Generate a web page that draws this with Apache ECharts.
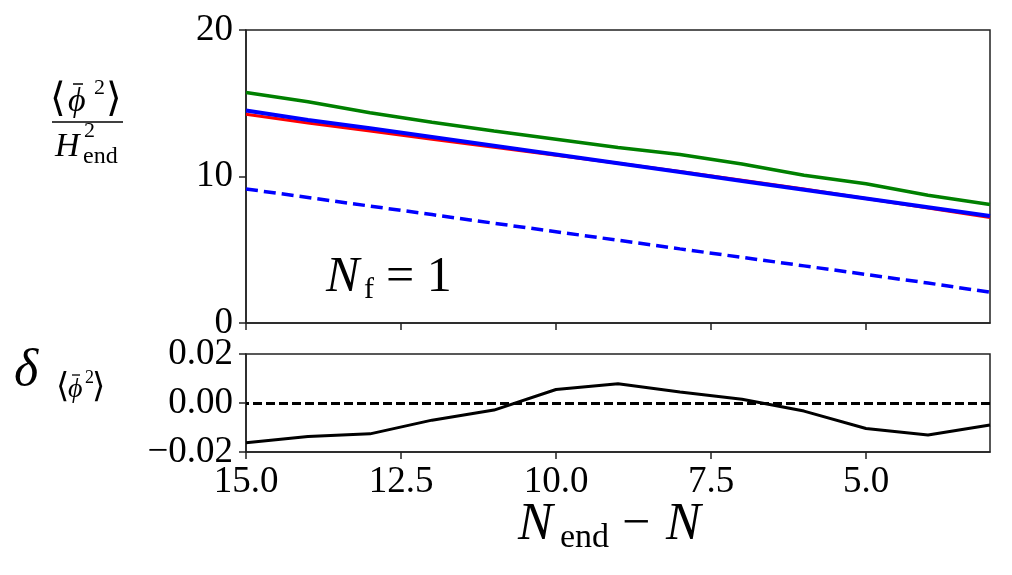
<!DOCTYPE html>
<html>
<head>
<meta charset="utf-8">
<script src="https://cdn.jsdelivr.net/npm/echarts@6/dist/echarts.min.js"></script>
<style>
html, body { margin: 0; padding: 0; background: #fff; }
#main { width: 1012px; height: 575px; }
</style>
</head>
<body>
<div id="main"></div>
<script>
// N_end - N sample points
const nLeft = [15, 14, 13, 12, 11, 10, 9, 8, 7, 6, 5, 4, 3];
// <phi^2>/H_end^2 curves
const phiRed = [14.25, 13.65, 13.1, 12.55, 12.0, 11.45, 10.9, 10.35, 9.75, 9.15, 8.5, 7.85, 7.2];
const phiBlue = [14.5, 13.85, 13.3, 12.7, 12.1, 11.5, 10.9, 10.3, 9.7, 9.1, 8.5, 7.9, 7.3];
const phiGreen = [15.73, 15.1, 14.35, 13.7, 13.1, 12.55, 11.98, 11.5, 10.85, 10.08, 9.5, 8.72, 8.09];
const phiBlueDashed = [9.15, 8.57, 7.98, 7.4, 6.81, 6.23, 5.65, 5.06, 4.48, 3.9, 3.31, 2.73, 2.1];
// relative difference (lower panel)
const deltaPhi = [-0.0162, -0.0137, -0.0126, -0.0070, -0.0029, 0.0055, 0.0079, 0.0045, 0.0015, -0.0033, -0.0104, -0.0131, -0.0090];
const xTicks = [15, 12.5, 10, 7.5, 5];

const pairs = (ys) => nLeft.map((n, i) => [n, ys[i]]);

const SERIF = "'Liberation Serif', 'DejaVu Serif', serif";
const AX = '#222';

const myChart = echarts.init(document.getElementById('main'));

function txt(text, x, y, size, opts) {
  opts = opts || {};
  return {
    type: 'text',
    x: x, y: y,
    style: Object.assign({
      text: text,
      fontFamily: SERIF,
      fontSize: size,
      fill: '#000',
      align: 'left', verticalAlign: 'middle',
      textAlign: 'left', textVerticalAlign: 'middle'
    }, opts)
  };
}

function bar(x1, x2, y, w) {
  return { type: 'line', shape: { x1: x1, y1: y, x2: x2, y2: y }, style: { stroke: '#000', lineWidth: w || 1.5 } };
}

const xAxisBase = {
  type: 'value',
  min: 3,
  max: 15,
  inverse: true,
  splitLine: { show: false },
  axisLine: { show: true, onZero: false, lineStyle: { color: AX, width: 1.5 } },
  axisTick: { show: true, length: 7, customValues: xTicks, lineStyle: { color: AX, width: 1.5 } }
};

myChart.setOption({
  animation: false,
  grid: [
    { left: 246, right: 22, top: 30, height: 293, show: true, borderColor: AX, borderWidth: 1.5 },
    { left: 246, right: 22, top: 354, height: 98, show: true, borderColor: AX, borderWidth: 1.5 }
  ],
  xAxis: [
    Object.assign({}, xAxisBase, { gridIndex: 0, axisLabel: { show: false } }),
    Object.assign({}, xAxisBase, {
      gridIndex: 1,
      axisLabel: {
        show: true,
        customValues: xTicks,
        margin: 12,
        fontFamily: SERIF,
        fontSize: 37,
        color: '#000',
        formatter: v => v.toFixed(1)
      }
    })
  ],
  yAxis: [
    {
      gridIndex: 0, type: 'value', min: 0, max: 20, interval: 10,
      splitLine: { show: false },
      axisLine: { show: true, onZero: false, lineStyle: { color: AX, width: 1.5 } },
      axisTick: { show: true, length: 7, lineStyle: { color: AX, width: 1.5 } },
      axisLabel: { margin: 13, fontFamily: SERIF, fontSize: 37, color: '#000' }
    },
    {
      gridIndex: 1, type: 'value', min: -0.02, max: 0.02, interval: 0.02,
      splitLine: { show: false },
      axisLine: { show: true, onZero: false, lineStyle: { color: AX, width: 1.5 } },
      axisTick: { show: true, length: 7, lineStyle: { color: AX, width: 1.5 } },
      axisLabel: {
        margin: 13, fontFamily: SERIF, fontSize: 37, color: '#000',
        formatter: v => (v < 0 ? '\u2212' : '') + Math.abs(v).toFixed(2)
      }
    }
  ],
  series: [
    {
      type: 'line', xAxisIndex: 0, yAxisIndex: 0, data: pairs(phiRed),
      showSymbol: false, lineStyle: { color: '#ff0000', width: 3 }
    },
    {
      type: 'line', xAxisIndex: 0, yAxisIndex: 0, data: pairs(phiBlue),
      showSymbol: false, lineStyle: { color: '#0000ff', width: 4 }
    },
    {
      type: 'line', xAxisIndex: 0, yAxisIndex: 0, data: pairs(phiGreen),
      showSymbol: false, lineStyle: { color: '#008000', width: 3.5 }
    },
    {
      type: 'line', xAxisIndex: 0, yAxisIndex: 0, data: pairs(phiBlueDashed),
      showSymbol: false, lineStyle: { color: '#0000ff', width: 3.5, type: [12, 6] }
    },
    {
      type: 'line', xAxisIndex: 1, yAxisIndex: 1, data: pairs(deltaPhi),
      showSymbol: false, lineStyle: { color: '#000', width: 3 },
      markLine: {
        silent: true, symbol: 'none', label: { show: false },
        lineStyle: { color: '#000', width: 3, type: [9, 4] },
        data: [{ yAxis: 0 }]
      }
    }
  ],
  graphic: [
    // upper y label: <phi^2> / H_end^2
    txt('\u27e8', 50, 100, 40),
    txt('\u03d5', 68, 102, 34, { fontStyle: 'italic' }),
    bar(73, 83, 84, 1.5),
    txt('2', 94, 88, 22),
    txt('\u27e9', 106, 100, 40),
    bar(52, 123, 122, 1.5),
    txt('H', 55, 147, 34, { fontStyle: 'italic' }),
    txt('2', 84, 131, 22),
    txt('end', 83, 157, 24),
    // N_f = 1
    txt('N', 326, 278, 50, { fontStyle: 'italic' }),
    txt('f', 364, 290, 30),
    txt('= 1', 386, 278, 50),
    // lower y label: delta_<phi^2>
    txt('\u03b4', 14, 371, 52, { fontStyle: 'italic' }),
    txt('\u27e8', 56, 388, 34),
    txt('\u03d5', 68, 390, 28, { fontStyle: 'italic' }),
    bar(72, 80, 375, 1.3),
    txt('2', 85, 378, 18),
    txt('\u27e9', 92, 388, 34),
    // x label: N_end - N
    txt('N', 518, 525, 52, { fontStyle: 'italic' }),
    txt('end', 560, 538, 34),
    txt('\u2212', 622, 525, 50),
    txt('N', 666, 525, 52, { fontStyle: 'italic' })
  ]
});
</script>
</body>
</html>
